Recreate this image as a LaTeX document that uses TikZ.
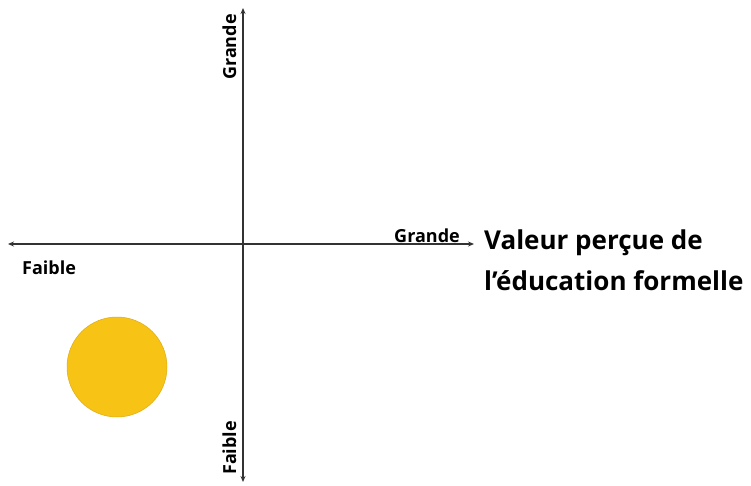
\documentclass[tikz,border=0pt]{standalone}
\usepackage{fontspec}
\setmainfont{Open Sans}
\usetikzlibrary{arrows.meta, positioning}
\definecolor{axisgray}{RGB}{51,51,51}
\definecolor{dotyellow}{RGB}{247,196,21}
\definecolor{dotedge}{RGB}{222,170,20}

\begin{document}
\begin{tikzpicture}[x=1pt, y=-1pt, >={Stealth[length=6pt, width=5pt]},
    axis/.style={->, axisgray, line width=1.3pt},
    lbl/.style={font=\fontsize{18}{20}\selectfont\bfseries, text=black, inner sep=1pt}]
    \useasboundingbox (0,0) rectangle (751,485);

    % Axes
    \coordinate (O) at (243,244);
    \coordinate (xl) at (8,244);
    \coordinate (xr) at (474,244);
    \coordinate (yt) at (243,8);
    \coordinate (yb) at (243,482);
    \draw[axis] (O) -- (xl);
    \draw[axis] (O) -- (xr);
    \draw[axis] (O) -- (yt);
    \draw[axis] (O) -- (yb);

    % Axis labels
    \node[lbl, anchor=base east] (xgrande) at (461,242) {Grande};
    \node[lbl, anchor=base west] (xfaible) at (21,274) {Faible};
    \node[lbl, rotate=90, anchor=base west] (ygrande) at (236,81) {Grande};
    \node[lbl, rotate=90, anchor=base west] (yfaible) at (236,476) {Faible};

    % Title
    \node[anchor=base west, align=left, inner sep=0pt,
          font=\fontsize{26}{41}\selectfont\bfseries] (title) at (484,290)
          {Valeur perçue de\\l’éducation formelle};

    % Dot
    \node[circle, fill=dotyellow, draw=dotedge, line width=0.5pt,
          minimum size=100pt, inner sep=0pt] (dot) at (117,367) {};
\end{tikzpicture}
\end{document}
